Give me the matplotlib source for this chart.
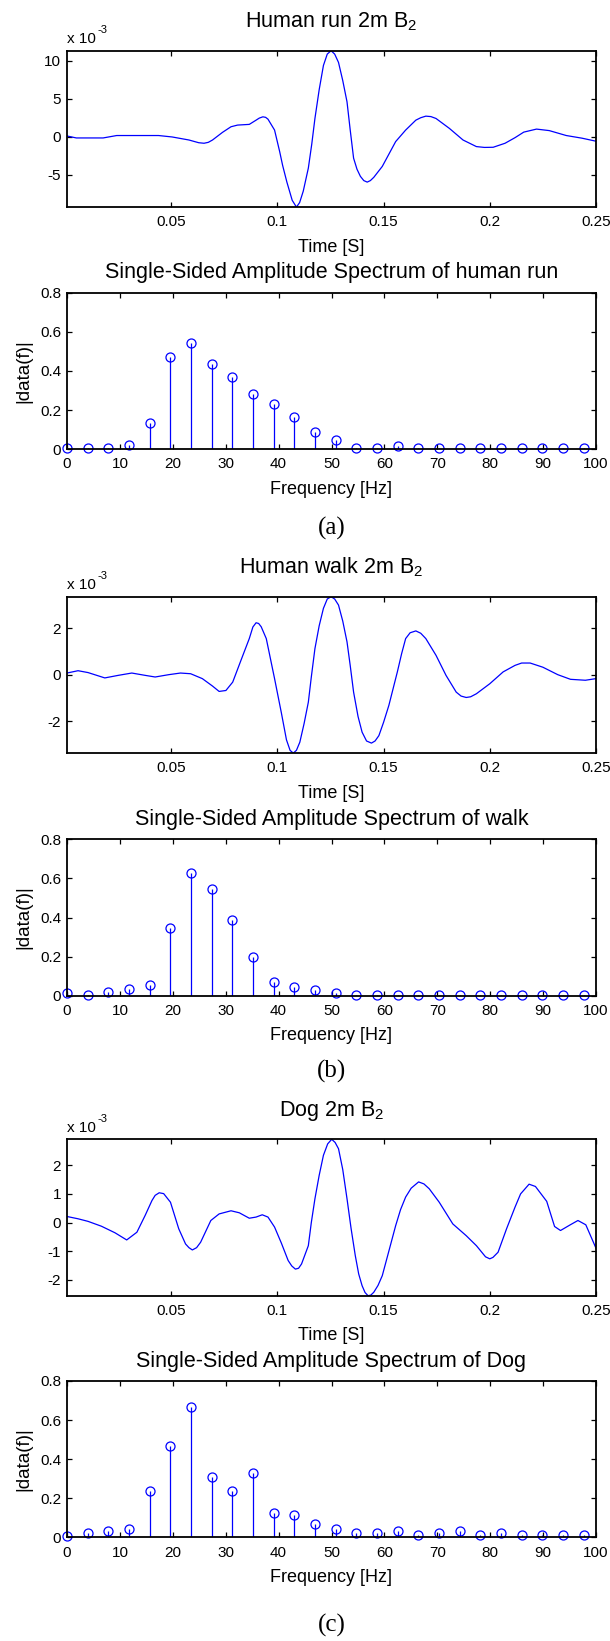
import numpy as np
import matplotlib
matplotlib.use('Agg')
import matplotlib.pyplot as plt

plt.rcParams['font.family'] = ['Liberation Sans', 'DejaVu Sans']
plt.rcParams['mathtext.fontset'] = 'custom'
plt.rcParams['mathtext.rm'] = 'Liberation Sans'
plt.rcParams['mathtext.it'] = 'Liberation Sans:italic'

# ---------------------------------------------------------
# Time traces (values in units of 1e-3)
t_run = [0.001, 0.0054, 0.018, 0.0244, 0.0441, 0.0505, 0.0584, 0.063, 0.0655, 0.0675,
         0.0695, 0.0742, 0.0782, 0.0813, 0.0868, 0.090, 0.0915, 0.0932, 0.0945, 0.0956,
         0.0987, 0.1011, 0.1025, 0.1045, 0.107, 0.109, 0.1105, 0.1122, 0.1146, 0.1162,
         0.1177, 0.1197, 0.1217, 0.1235, 0.1253, 0.127, 0.1288, 0.1308, 0.1328, 0.1343,
         0.1359, 0.1375, 0.1391, 0.1407, 0.1423, 0.1438, 0.1454, 0.1494, 0.1557, 0.1604,
         0.1652, 0.1675, 0.1699, 0.1723, 0.1747, 0.181, 0.1874, 0.1937, 0.1975, 0.2016,
         0.2072, 0.2119, 0.216, 0.222, 0.228, 0.236, 0.2434, 0.25]
v_run = [0.09, -0.17, -0.17, 0.15, 0.15, -0.04, -0.44, -0.8, -0.87, -0.75,
         -0.44, 0.57, 1.31, 1.53, 1.62, 2.18, 2.45, 2.62, 2.55, 2.31,
         0.87, -1.97, -3.8, -6.0, -8.4, -9.3, -8.7, -7.2, -4.15, -1.0,
         2.4, 6.2, 9.4, 10.9, 11.35, 10.9, 9.8, 7.4, 4.6, 0.9,
         -2.84, -4.3, -5.24, -5.8, -6.0, -5.8, -5.37, -3.93, -0.65, 0.87,
         2.18, 2.5, 2.71, 2.65, 2.4, 1.09, -0.44, -1.31, -1.42, -1.4,
         -0.87, -0.13, 0.6, 1.0, 0.8, 0.15, -0.2, -0.6]

t_walk = [0.001, 0.0062, 0.0109, 0.0188, 0.0251, 0.0315, 0.0378, 0.0425, 0.0489, 0.0544,
          0.0592, 0.0647, 0.0695, 0.0726, 0.0758, 0.079, 0.0829, 0.0868, 0.0885, 0.090,
          0.0912, 0.0924, 0.0948, 0.0987, 0.1019, 0.1043, 0.106, 0.1075, 0.109, 0.1106,
          0.1126, 0.1146, 0.116, 0.1177, 0.1197, 0.1217, 0.1235, 0.1253, 0.127, 0.1288,
          0.1308, 0.1328, 0.1343, 0.1359, 0.138, 0.1399, 0.142, 0.1443, 0.146, 0.1478,
          0.150, 0.1525, 0.1545, 0.1565, 0.1585, 0.1604, 0.1625, 0.1652, 0.1675, 0.1699,
          0.1747, 0.1794, 0.1842, 0.1865, 0.1889, 0.191, 0.1937, 0.200, 0.2063, 0.2119,
          0.215, 0.219, 0.225, 0.232, 0.238, 0.245, 0.25]
v_walk = [0.07, 0.17, 0.09, -0.14, -0.03, 0.07, -0.03, -0.10, 0.0, 0.07,
          0.04, -0.17, -0.49, -0.72, -0.68, -0.32, 0.62, 1.55, 2.05, 2.23,
          2.2, 2.06, 1.55, -0.17, -1.64, -2.8, -3.25, -3.37, -3.25, -2.9,
          -2.1, -1.18, -0.1, 1.12, 2.1, 2.85, 3.25, 3.35, 3.25, 2.99,
          2.3, 1.41, 0.4, -0.75, -1.8, -2.47, -2.85, -2.94, -2.85, -2.62,
          -2.05, -1.32, -0.6, 0.12, 0.9, 1.55, 1.8, 1.88, 1.78, 1.55,
          0.83, -0.03, -0.75, -0.92, -0.98, -0.95, -0.82, -0.39, 0.12, 0.40,
          0.50, 0.50, 0.32, 0.0, -0.2, -0.24, -0.17]

t_dog = [0.001, 0.0062, 0.0109, 0.0172, 0.0236, 0.0291, 0.0339, 0.0378, 0.041, 0.0425,
         0.0444, 0.0465, 0.0497, 0.0536, 0.0568, 0.0584, 0.060, 0.062, 0.0639, 0.0687,
         0.0726, 0.0782, 0.0821, 0.0868, 0.090, 0.0929, 0.0956, 0.0987, 0.1019, 0.1051,
         0.1068, 0.1085, 0.110, 0.1114, 0.1146, 0.116, 0.1177, 0.1197, 0.1217, 0.1237,
         0.1256, 0.1272, 0.1288, 0.1308, 0.1328, 0.1347, 0.1367, 0.1383, 0.1399, 0.1413,
         0.1427, 0.144, 0.1454, 0.1474, 0.1494, 0.1525, 0.1557, 0.158, 0.1604, 0.163,
         0.1665, 0.169, 0.1715, 0.1762, 0.1826, 0.1889, 0.1937, 0.198, 0.200, 0.2015,
         0.2039, 0.2079, 0.2119, 0.2145, 0.2185, 0.2215, 0.2268, 0.2305, 0.2333, 0.2379,
         0.2415, 0.2452, 0.25]
v_dog = [0.21, 0.13, 0.04, -0.13, -0.36, -0.61, -0.34, 0.25, 0.77, 0.95,
         1.04, 1.01, 0.71, -0.22, -0.75, -0.88, -0.96, -0.88, -0.69, 0.07,
         0.30, 0.41, 0.34, 0.15, 0.19, 0.27, 0.19, -0.16, -0.72, -1.33,
         -1.52, -1.63, -1.6, -1.45, -0.81, 0.0, 0.83, 1.65, 2.35, 2.75,
         2.91, 2.8, 2.58, 1.85, 0.83, -0.2, -1.16, -1.8, -2.21, -2.45,
         -2.56, -2.54, -2.44, -2.2, -1.86, -1.0, -0.11, 0.45, 0.89, 1.2,
         1.42, 1.35, 1.18, 0.71, -0.05, -0.46, -0.81, -1.2, -1.27, -1.22,
         -1.04, -0.22, 0.54, 1.0, 1.34, 1.26, 0.74, -0.14, -0.28, -0.08,
         0.07, -0.08, -0.9]

# ---------------------------------------------------------
# Single-sided spectra, bins of 1000/256 Hz
f_bins = [0, 3.91, 7.81, 11.72, 15.63, 19.53, 23.44, 27.34, 31.25, 35.16,
          39.06, 42.97, 46.88, 50.78, 54.69, 58.59, 62.5, 66.41, 70.31, 74.22,
          78.13, 82.03, 85.94, 89.84, 93.75, 97.66]
a_run = [0.008, 0.006, 0.005, 0.020, 0.132, 0.470, 0.541, 0.434, 0.368, 0.280,
         0.231, 0.163, 0.088, 0.044, 0.006, 0.006, 0.014, 0.006, 0.005, 0.005,
         0.005, 0.006, 0.005, 0.005, 0.004, 0.005]
a_walk = [0.012, 0.004, 0.020, 0.036, 0.055, 0.346, 0.626, 0.544, 0.389, 0.198,
          0.072, 0.043, 0.029, 0.013, 0.005, 0.005, 0.004, 0.004, 0.004, 0.004,
          0.004, 0.004, 0.004, 0.004, 0.004, 0.004]
a_dog = [0.005, 0.020, 0.032, 0.043, 0.236, 0.467, 0.665, 0.311, 0.236, 0.330,
         0.125, 0.113, 0.070, 0.043, 0.020, 0.020, 0.032, 0.014, 0.020, 0.032,
         0.013, 0.020, 0.013, 0.013, 0.013, 0.013]

time_titles = ['Human run 2m B$_2$', 'Human walk 2m B$_2$', 'Dog 2m B$_2$']
spec_titles = ['Single-Sided Amplitude Spectrum of human run',
               'Single-Sided Amplitude Spectrum of walk',
               'Single-Sided Amplitude Spectrum of Dog']
time_yticks = [[-5, 0, 5, 10], [-2, 0, 2], [-2, -1, 0, 1, 2]]
captions = ['(a)', '(b)', '(c)']

W, H = 610, 1641
fig = plt.figure(figsize=(W/100, H/100), dpi=100)
blue = '#0000ff'
xl, xr = 67, 596
xc = (xl + xr) / 2 / W

def add_ax(top, bottom):
    ax = fig.add_axes([xl/W, 1 - bottom/H, (xr - xl)/W, (bottom - top)/H])
    for s in ax.spines.values():
        s.set_linewidth(1.3)
    ax.tick_params(direction='in', top=True, right=True, length=3.6, width=0.9,
                   labelsize=11)
    ax.tick_params(axis='x', pad=6.0)
    ax.tick_params(axis='y', pad=4.3)
    return ax

def ftext(x, y, s, **kw):
    fig.text(x, 1 - y/H, s, **kw)

time_tops = [50.7, 596.7, 1139.3]
spec_tops = [292.7, 839.3, 1381.0]
cap_y = [535, 1078, 1631.7]
ah = 156.4

traces = [(t_run, v_run), (t_walk, v_walk), (t_dog, v_dog)]
spectra = [a_run, a_walk, a_dog]

for i in range(3):
    # time trace
    top = time_tops[i]
    ax = add_ax(top, top + ah)
    t, v = traces[i]
    ax.plot(t, v, color=blue, linewidth=0.9)
    ax.set_xlim(min(t), 0.25)
    ax.set_ylim(min(v), max(v))
    ax.set_xticks([0.05, 0.1, 0.15, 0.2, 0.25])
    ax.set_xticklabels(['0.05', '0.1', '0.15', '0.2', '0.25'])
    ax.set_yticks(time_yticks[i])
    ax.set_yticklabels([str(k) for k in time_yticks[i]])
    ftext(xc, top - 23.5, time_titles[i], ha='center', va='baseline', fontsize=15.5)
    ftext(xl/W, top - 7.5, 'x 10', ha='left', va='baseline', fontsize=11)
    ftext((xl + 30)/W, top - 17.5, '-3', ha='left', va='baseline', fontsize=8)
    ftext(xc, top + ah + 44.5, 'Time [S]', ha='center', va='baseline', fontsize=13)

    # spectrum
    top = spec_tops[i]
    ax = add_ax(top, top + ah)
    ml, sl, bl = ax.stem(f_bins, spectra[i], linefmt='-', markerfmt='o', basefmt=' ')
    sl.set_color(blue)
    sl.set_linewidth(0.9)
    ml.set_markerfacecolor('none')
    ml.set_markeredgecolor(blue)
    ml.set_markersize(6.5)
    ml.set_markeredgewidth(0.9)
    ml.set_clip_on(False)
    ax.set_xlim(0, 100)
    ax.set_ylim(0, 0.8)
    ax.set_xticks(range(0, 101, 10))
    ax.set_yticks([0, 0.2, 0.4, 0.6, 0.8])
    ax.set_yticklabels(['0', '0.2', '0.4', '0.6', '0.8'])
    ftext(xc, top - 14.4, spec_titles[i], ha='center', va='baseline', fontsize=15.5)
    ftext(xc, top + ah + 44.5, 'Frequency [Hz]', ha='center', va='baseline', fontsize=13)
    ftext(24/W, top + ah/2, '|data(f)|', ha='center', va='center', rotation=90, fontsize=13.5)

    ftext(xc, cap_y[i], captions[i], ha='center', va='baseline', fontsize=18,
          family=['Liberation Serif', 'DejaVu Serif'])

fig.savefig('out.png', dpi=100)
